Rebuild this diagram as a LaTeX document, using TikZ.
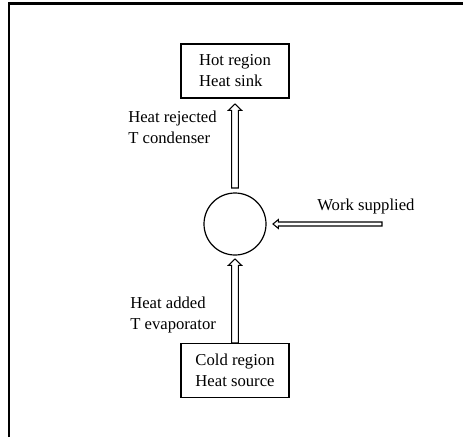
\documentclass[tikz,border=0pt]{standalone}
\usepackage{fontspec}
\setmainfont{Liberation Serif}
\usetikzlibrary{arrows.meta,positioning,calc}

\tikzset{
  region/.style={draw, line width=0.9pt, minimum width=108*0.75pt, minimum height=54*0.75pt,
    align=left, inner sep=0pt, font=\fontsize{12.5}{15.75}\selectfont},
  label/.style={align=left, inner sep=0pt, font=\fontsize{12.5}{15.75}\selectfont},
  hollow/.style={line width=0.8pt, line join=miter}
}
% hollow arrow: from, to, half shaft, half head, head length
\newcommand\hollowarrow[5]{%
  \draw[hollow] let \p1=(#1), \p2=(#2),
    \n1={atan2(\y2-\y1,\x2-\x1)}, \n2={veclen(\x2-\x1,\y2-\y1)} in
    {[shift={(\p1)}, rotate=\n1]
      (0pt,-#3) -- ({\n2-#5},-#3) -- ({\n2-#5},-#4) -- ({\n2*1pt},0pt)
      -- ({\n2-#5},#4) -- ({\n2-#5},#3) -- (0pt,#3) -- cycle};
}

\begin{document}
\begin{tikzpicture}[x=0.75pt, y=-0.75pt]
        \useasboundingbox (0,0) rectangle (463,437);
        %Frame
        \draw[line width=2pt] (9,437) -- (9,3.5) -- (463,3.5);
        %Draw nodes
        \node[region] (hot) at (235,71) {Hot region\\Heat sink};
        \node[region] (cold) at (235,370.5) {Cold region\\Heat source};
        \node[draw, circle, line width=0.9pt, minimum size=62*0.75pt, inner sep=0pt] (pump) at (235,224) {};
        \coordinate (uptail) at (235,188);
        \coordinate (uptip) at (235,104);
        \coordinate (lowtip) at (235,259);
        \coordinate (worktail) at (382,224);
        \coordinate (worktip) at (273,224);
        %Draw labels
        \node[label, anchor=west] (rejected) at (128,127) {Heat rejected\\T condenser};
        \node[label, anchor=west] (added) at (130,315) {Heat added\\T evaporator};
        \node[label, anchor=west] (work) at (317,206) {Work supplied};
        %Draw arrows
        \hollowarrow{uptail}{uptip}{2.5pt}{5pt}{4.8pt}
        \hollowarrow{cold.north}{lowtip}{2.5pt}{5pt}{4.8pt}
        \hollowarrow{worktail}{worktip}{1.5pt}{3.3pt}{4pt}
\end{tikzpicture}
\end{document}
